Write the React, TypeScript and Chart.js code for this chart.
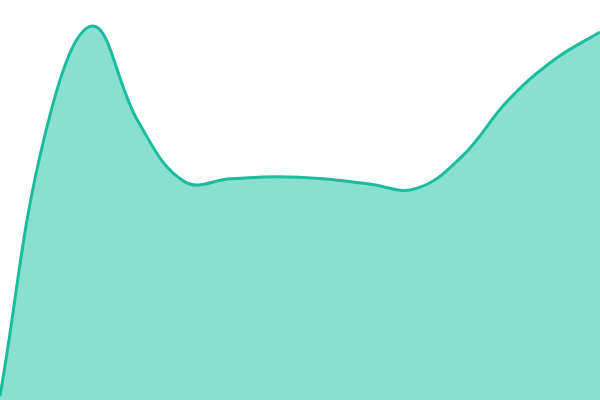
import { useEffect, useRef } from "react";
import Chart from "chart.js/auto";

const labels = ["1", "2", "3", "4", "5", "6", "7", "8", "9", "10", "11", "12", "13", "14"];
const values = [1, 67.5, 93.5, 69.5, 54.6, 55.3, 55.8, 55.3, 54, 52.8, 60.8, 74.8, 85, 92];

const lineColor = "#1abc9c";
const fillColor = "#8ae0cf";

export default function App() {
  const canvasRef = useRef<HTMLCanvasElement | null>(null);
  const chartRef = useRef<Chart | null>(null);

  useEffect(() => {
    document.body.style.margin = "0";
    if (!canvasRef.current) return;
    const ctx = canvasRef.current.getContext("2d");
    if (!ctx) return;

    if (chartRef.current) chartRef.current.destroy();

    chartRef.current = new Chart(ctx, {
      type: "line",
      data: {
        labels,
        datasets: [
          {
            data: values,
            borderColor: lineColor,
            backgroundColor: fillColor,
            borderWidth: 3,
            fill: "origin",
            tension: 0.4,
            pointRadius: 0,
          },
        ],
      },
      options: {
        animation: false,
        responsive: true,
        maintainAspectRatio: false,
        layout: { padding: 0 },
        plugins: {
          legend: { display: false },
          tooltip: { enabled: false },
        },
        scales: {
          x: { display: false },
          y: { display: false, min: 0, max: 100 },
        },
      },
    });

    return () => chartRef.current?.destroy();
  }, []);

  return (
    <div style={{ width: 600, height: 400, position: "relative" }}>
      <canvas ref={canvasRef} />
    </div>
  );
}
